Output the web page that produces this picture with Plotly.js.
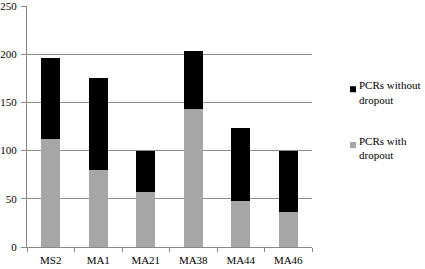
<!DOCTYPE html>
<html>
<head>
<meta charset="utf-8">
<script src="https://cdn.plot.ly/plotly-3.0.1.min.js"></script>
<style>html,body{margin:0;padding:0;background:#fff}#chart{width:425px;height:269px}</style>
</head>
<body>
<div id="chart"></div>
<script>
const categories = ["MS2", "MA1", "MA21", "MA38", "MA44", "MA46"];
const withDropout = [112, 80, 57, 143, 48, 36];
const withoutDropout = [84, 95, 43, 60, 75, 64];
const seriesNames = ["PCRs with<br>dropout", "PCRs without<br>dropout"];

const fam = "'Liberation Serif', 'Times New Roman', 'DejaVu Serif', serif";
const font = {family: fam, size: 11, color: "#000"};
const legendFont = {family: fam, size: 11, color: "#000"};

const traces = [
  {type: "bar", x: categories, y: withDropout, name: seriesNames[0], legendgroup: "a", legendrank: 2,
   marker: {color: "#a6a6a6", line: {width: 0}}},
  {type: "bar", x: categories, y: withoutDropout, name: seriesNames[1], legendgroup: "b", legendrank: 1,
   marker: {color: "#000000", line: {width: 0}}}
];

const layout = {
  width: 425, height: 269,
  margin: {l: 27, r: 90, t: 6, b: 22, pad: 0},
  barmode: "stack",
  bargap: 0.61,
  paper_bgcolor: "#fff", plot_bgcolor: "#fff",
  font: font,
  showlegend: true,
  legend: {x: 1.0, y: 0.71, xanchor: "left", yanchor: "top", traceorder: "grouped",
           tracegroupgap: 24, font: legendFont, itemwidth: 30, bgcolor: "rgba(0,0,0,0)"},
  xaxis: {showgrid: false, showline: true, linecolor: "#888", linewidth: 1,
          ticks: "outside", tickson: "boundaries", ticklen: 4, tickcolor: "#888",
          ticklabelstandoff: 3, tickfont: font, fixedrange: true},
  yaxis: {range: [0, 250], tickvals: [0, 50, 100, 150, 200, 250], showgrid: true, gridcolor: "#8c8c8c", gridwidth: 1,
          showline: true, linecolor: "#888", linewidth: 1, ticks: "outside", ticklen: 5,
          ticklabelstandoff: 2, ticklabeloverflow: "allow", tickcolor: "#888", tickfont: font,
          zeroline: false, fixedrange: true}
};

Plotly.newPlot("chart", traces, layout, {displayModeBar: false, staticPlot: true}).then(function () {
  const gd = document.getElementById("chart");
  const leg = gd.querySelector(".legend");
  if (!leg) return;
  const texts = leg.querySelectorAll(".legendtext");
  if (!texts.length) return;
  const r = texts[0].getBoundingClientRect();
  const m = /translate\(([-\d.]+)[ ,]+([-\d.]+)\)/.exec(leg.getAttribute("transform") || "");
  const lx = m ? parseFloat(m[1]) : 0, ly = m ? parseFloat(m[2]) : 0;
  const firstLineH = r.height / 2;
  const dx = 359 - r.left;
  const dy = 89 - (r.top + firstLineH / 2) - 3;
  leg.setAttribute("transform", "translate(" + (lx + dx) + "," + (ly + dy) + ")");
  leg.querySelectorAll(".traces").forEach(function (item) {
    const t = item.querySelector(".legendtext");
    const p = item.querySelector(".legendpoints path");
    if (!t || !p) return;
    const tx = parseFloat(t.getAttribute("x")) || 40;
    p.setAttribute("d", "M3,3H-3V-3H3Z");
    p.setAttribute("transform", "translate(" + (tx - 6) + ",-3)");
  });
});
</script>
</body>
</html>
